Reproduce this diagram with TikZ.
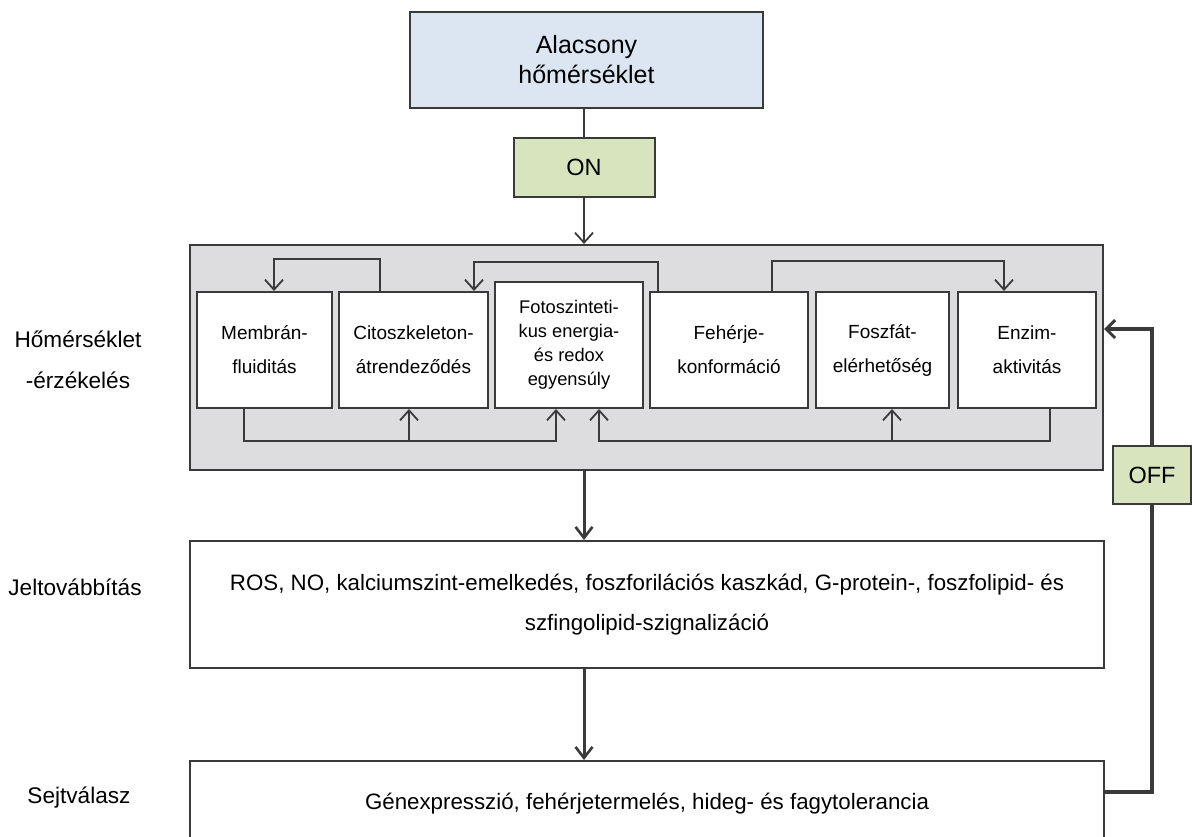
\documentclass[tikz,border=0pt]{standalone}
\usepackage{fontspec}
\setmainfont{Liberation Sans}
\usetikzlibrary{arrows.meta}
\definecolor{linec}{HTML}{3A3A3A}
\definecolor{topfill}{HTML}{DCE5F2}
\definecolor{onfill}{HTML}{D8E4BD}
\definecolor{grayfill}{HTML}{DDDDE0}
\tikzset{
  box/.style={draw=linec, line width=2pt, inner sep=0pt, align=center, text=black},
  inbox/.style={box, fill=white, font=\fontsize{19}{34}\selectfont},
  conn/.style={draw=linec, line width=2.7pt},
  arr/.style={conn, -{Straight Barb[length=10pt,width=18pt,line width=1.8pt]}},
  bigarr/.style={draw=linec, line width=3pt, -{Straight Barb[length=11pt,width=17pt,line width=2.6pt]}},
  offline/.style={draw=linec, line width=4.5pt},
  offarr/.style={offline, -{Straight Barb[length=9pt,width=18pt,line width=3pt]}},
  sidelab/.style={inner sep=0pt, align=center, font=\fontsize{22.6}{41}\selectfont},
}
\begin{document}
\begin{tikzpicture}[x=1pt,y=-1pt]
\useasboundingbox (0,0) rectangle (1192,836);
% top
\node[box, fill=topfill, minimum width=353pt, minimum height=96pt, font=\fontsize{25}{30}\selectfont] (top) at (586.5,60) {Alacsony\\hőmérséklet};
\node[box, fill=onfill, minimum width=141pt, minimum height=59pt, font=\fontsize{23.5}{28}\selectfont] (on) at (584,167.5) {ON};
% gray sensing box
\node[box, fill=grayfill, minimum width=913pt, minimum height=225pt] (gray) at (646.5,357.5) {};
\node[inbox, minimum width=135pt, minimum height=116pt] (mem) at (264.5,350) {Membrán-\\fluiditás};
\node[inbox, minimum width=149pt, minimum height=116pt] (cito) at (413.5,350) {Citoszkeleton-\\átrendeződés};
\node[inbox, minimum width=148pt, minimum height=126pt, font=\fontsize{18.3}{24}\selectfont] (foto) at (569,345) {Fotoszinteti-\\kus energia-\\és redox\\egyensúly};
\node[inbox, minimum width=158pt, minimum height=116pt] (feh) at (729,350) {Fehérje-\\konformáció};
\node[inbox, minimum width=133pt, minimum height=116pt] (fosz) at (882.5,350) {Foszfát-\\elérhetőség};
\node[inbox, minimum width=138pt, minimum height=116pt] (enz) at (1027,350) {Enzim-\\aktivitás};
% lower boxes
\node[box, fill=white, minimum width=914pt, minimum height=127pt, font=\fontsize{22.3}{40}\selectfont] (jel) at (647,604.5) {ROS, NO, kalciumszint-emelkedés, foszforilációs kaszkád, G-protein-, foszfolipid- és\\szfingolipid-szignalizáció};
\node[box, fill=white, minimum width=914pt, minimum height=86pt, font=\fontsize{22.3}{24}\selectfont] (bot) at (647,804) {Génexpresszió, fehérjetermelés, hideg- és fagytolerancia};
\node[box, fill=onfill, minimum width=78pt, minimum height=58pt, font=\fontsize{23.5}{28}\selectfont] (off) at (1152,475) {OFF};
% side labels
\node[sidelab] (l1) at (78,359.5) {Hőmérséklet\\-érzékelés};
\node[sidelab] (l2) at (75,587) {Jeltovábbítás};
\node[sidelab] (l3) at (79,798) {Sejtválasz};
% main flow
\draw[conn, line width=2.2pt] (top.south -| on.north) -- (on.north);
\draw[arr, line width=2.2pt] (on.south) -- (on.south |- gray.north);
\draw[bigarr] (gray.south -| on.south) -- (jel.north -| on.south);
\draw[bigarr] (jel.south -| on.south) -- (bot.north -| on.south);
% inner connectors top
\coordinate (c1) at (380,259);
\coordinate (c2) at (274,259);
\draw[arr] (c1 |- cito.north) -- (c1) -- (c2) -- (c2 |- mem.north);
\coordinate (c3) at (658,262);
\coordinate (c4) at (474,262);
\draw[arr] (c3 |- feh.north) -- (c3) -- (c4) -- (c4 |- cito.north);
\coordinate (c5) at (772,261);
\coordinate (c6) at (1004,261);
\draw[arr] (c5 |- feh.north) -- (c5) -- (c6) -- (c6 |- enz.north);
% inner connectors bottom
\coordinate (c7) at (244,441);
\coordinate (c8) at (556,441);
\coordinate (c9) at (409,441);
\draw[arr] (c7 |- mem.south) -- (c7) -- (c8) -- (c8 |- foto.south);
\draw[arr] (c9) -- (c9 |- cito.south);
\coordinate (c10) at (1050,441);
\coordinate (c11) at (599,441);
\coordinate (c12) at (892,441);
\draw[arr] (c10 |- enz.south) -- (c10) -- (c11) -- (c11 |- foto.south);
\draw[arr] (c12) -- (c12 |- fosz.south);
% OFF feedback
\coordinate (o1) at (1152,329);
\coordinate (o2) at (1152,792);
\draw[offline] (o2 -| bot.east) -- (o2) -- (off.south);
\draw[offarr] (off.north) -- (o1) -- (o1 -| gray.east);
\end{tikzpicture}
\end{document}
